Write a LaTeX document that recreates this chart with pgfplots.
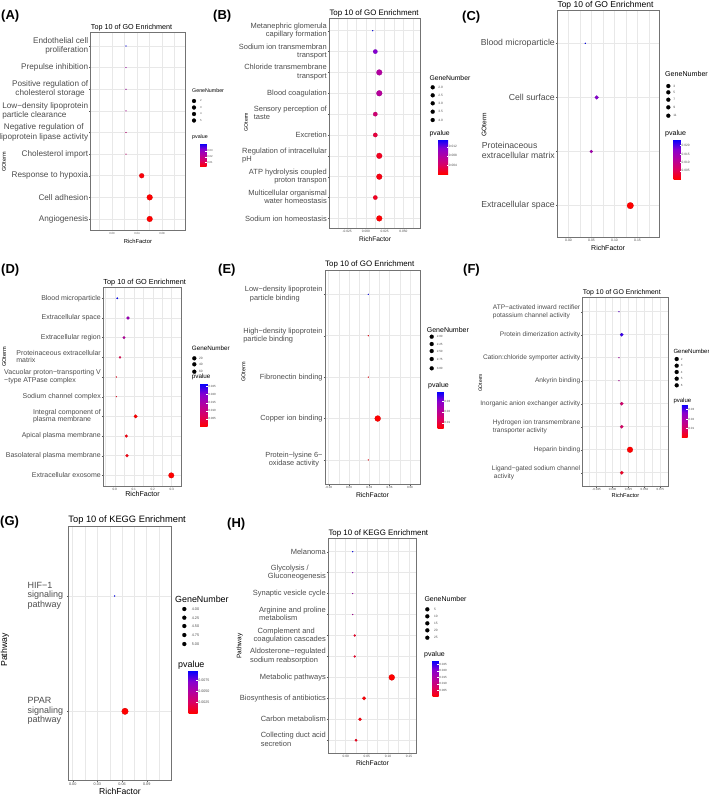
\documentclass[border=0pt]{standalone}
\usepackage{fontspec}
\setmainfont{Liberation Sans}
\usepackage{pgfplots}
\pgfplotsset{compat=1.18}
\newcommand{\fs}[2]{\fontsize{#1}{#2}\selectfont}
\newcommand{\labL}[2]{\begin{tabular}{@{}l@{}}#1\\#2\end{tabular}}
\newcommand{\labR}[2]{\begin{tabular}{@{}r@{}}#1\\#2\end{tabular}}
\newcommand{\labC}[2]{\begin{tabular}{@{}c@{}}#1\\#2\end{tabular}}
\pgfplotsset{
  /pgf/number format/assume math mode=true,
  colormap={pv}{rgb255=(255,0,0) rgb255=(219,0,96) rgb255=(180,0,158) rgb255=(135,0,208) rgb255=(0,0,255)},
  panel/.style={
    scale only axis, anchor=north west, y dir=reverse,
    colormap name=pv, colorbar,
    axis line style={black!55, line width=0.45pt},
    xmajorgrids, xminorgrids, ymajorgrids,
    major grid style={black!9, line width=0.5pt},
    minor grid style={black!9, line width=0.25pt},
    tick align=outside, major tick length=1.4pt, minor tick length=0pt,
    tick style={black!65, line width=0.35pt},
    xtick pos=left, ytick pos=left,
    scaled x ticks=false,
    title style={at={(0,1)}, anchor=base west, inner sep=0pt},
    xlabel={RichFactor},
    xlabel style={at={(0.5,0)}, anchor=base, inner sep=0pt},
    xticklabel style={text=black!70, inner sep=0.6pt, /pgf/number format/fixed, /pgf/number format/fixed zerofill},
    yticklabel style={text=black!70, inner sep=0.9pt},
    colorbar style={at={(parent axis.north east)}, anchor=north west, scale only axis,
      title={}, xlabel={}, ylabel={}, y dir=normal,
      xmajorgrids=false, xminorgrids=false, ymajorgrids=false,
      axis line style={draw=none}, major tick length=1.2pt, tick align=inside,
      tick style={white, line width=0.3pt}, scaled y ticks=false, ytick pos=right,
      yticklabel style={text=black!70, inner sep=0.6pt, /pgf/number format/fixed, /pgf/number format/fixed zerofill}},
  },
  dots/.style n args={3}{scatter, only marks, mark=*, point meta=\thisrow{p},
    visualization depends on={\thisrow{n} \as \gn},
    scatter/@pre marker code/.append style={/tikz/mark size={#3*(1+5*sqrt((\gn-#1)/(#2-#1)))/6}},
    mark options={line width=0.15pt}},
  keys/.style n args={4}{scatter, only marks, mark=*, point meta=\thisrow{n},
    visualization depends on={\thisrow{n} \as \gn},
    scatter/@pre marker code/.append style={/tikz/mark size={#3*(1+5*sqrt((\gn-#1)/(#2-#1)))/6}},
    scatter/use mapped color={draw=black, fill=black},
    mark options={line width=0.15pt},
    nodes near coords, nodes near coords align={anchor=west},
    every node near coord/.append style={xshift=#4, inner sep=0pt, text=black!70}},
}
\begin{document}
\begin{tikzpicture}
% ---------------- A ----------------
\begin{axis}[panel, at={(90.7pt,-32.7pt)}, width=94.6pt, height=197.3pt,
  xmin=-0.0341, xmax=0.1173, ymin=0.385, ymax=9.51,
  xtick={0,0.04,0.08}, minor xtick={-0.02,0.02,0.06,0.10}, ytick={1,...,9},
  yticklabels={{\labR{Endothelial cell}{proliferation}},{Prepulse inhibition},{\labC{Positive regulation of}{cholesterol storage}},{\labL{Low−density lipoprotein}{particle clearance}},{\labC{Negative regulation of}{lipoprotein lipase activity}},{Cholesterol import},{Response to hypoxia},{Cell adhesion},{Angiogenesis}},
  yticklabel style={font=\fs{8.2}{9.5}},
  xticklabel style={font=\fs{2.8}{3.2}, /pgf/number format/precision=2},
  title={Top 10 of GO Enrichment}, title style={font=\fs{7.2}{8}, yshift=-2.6pt},
  xlabel style={font=\fs{5.8}{6.5}, yshift=-13.3pt},
  point meta min=0.003, point meta max=0.043,
  colorbar style={xshift=6.2pt, yshift=-110.6pt, width=6.5pt, height=23.4pt, ytick={0.01,0.02,0.03},
    yticklabel style={font=\fs{2.8}{3.2}, /pgf/number format/precision=2}}]
\addplot[dots={2}{5}{2.9}] table[row sep=\\]{x y n p\\
0.0224 1 2 0.043\\ 0.0224 2 2 0.026\\ 0.0224 3 2 0.025\\ 0.0224 4 2 0.023\\ 0.0224 5 2 0.017\\
0.0224 6 2 0.016\\ 0.0475 7 4 0.004\\ 0.0603 8 5 0.003\\ 0.0603 9 5 0.003\\};
\end{axis}
% ---------------- B ----------------
\begin{axis}[panel, at={(329.3pt,-18.3pt)}, width=91.4pt, height=209.7pt,
  xmin=-0.0488, xmax=0.073, ymin=0.405, ymax=10.46,
  xtick={-0.025,0,0.025,0.05}, minor xtick={-0.0375,-0.0125,0.0125,0.0375,0.0625}, ytick={1,...,10},
  yticklabels={{\labR{Metanephric glomerula}{capillary formation}},{\labR{Sodium ion transmembran}{transport}},{\labR{Chloride transmembrane}{transport}},{Blood coagulation},{\labL{Sensory perception of}{taste}},{Excretion},{\labL{Regulation of intracellular}{pH}},{\labR{ATP hydrolysis coupled}{proton transpon}},{\labR{Multicellular organismal}{water homeostasis}},{Sodium ion homeostasis}},
  yticklabel style={font=\fs{7.5}{8.2}},
  xticklabel style={font=\fs{3.2}{3.6}, /pgf/number format/precision=3},
  title={Top 10 of GO Enrichment}, title style={font=\fs{7.9}{8.5}, yshift=-2.8pt},
  xlabel style={font=\fs{6.6}{7}, yshift=-13.6pt},
  point meta min=0.0001, point meta max=0.0152,
  colorbar style={xshift=8.8pt, yshift=-121pt, width=10pt, height=34.7pt, ytick={0.004,0.008,0.012},
    yticklabel style={font=\fs{3.2}{3.6}, /pgf/number format/precision=3}}]
\addplot[dots={2}{4}{2.9}] table[row sep=\\]{x y n p\\
0.0091 1 2 0.0152\\ 0.0125 2 3 0.0115\\ 0.0178 3 4 0.0078\\ 0.0178 4 4 0.0075\\ 0.0125 5 3 0.0050\\
0.0125 6 3 0.0025\\ 0.0178 7 4 0.0014\\ 0.0178 8 4 0.0008\\ 0.0125 9 3 0.0014\\ 0.0178 10 4 0.0002\\};
\end{axis}
% ---------------- C ----------------
\begin{axis}[panel, at={(557.3pt,-10pt)}, width=101.7pt, height=227pt,
  xmin=-0.0243, xmax=0.1967, ymin=0.384, ymax=4.58,
  xtick={0,0.05,0.10,0.15}, minor xtick={0.025,0.075,0.125,0.175}, ytick={1,...,4},
  yticklabels={{Blood microparticle},{Cell surface},{\labL{Proteinaceous}{extracellular matrix}},{Extracellular space}},
  yticklabel style={font=\fs{8.7}{10.5}},
  xticklabel style={font=\fs{3.4}{3.8}, /pgf/number format/precision=2},
  title={Top 10 of GO Enrichment}, title style={font=\fs{8.5}{9}, yshift=-3pt},
  xlabel style={font=\fs{7}{7.5}, yshift=-13.5pt},
  point meta min=0.0001, point meta max=0.0237,
  colorbar style={xshift=6pt, yshift=-129.3pt, width=7.3pt, height=39.7pt, ytick={0.005,0.010,0.015,0.020},
    yticklabel style={font=\fs{3.2}{3.6}, /pgf/number format/precision=3}}]
\addplot[dots={3}{11}{3.3}] table[row sep=\\]{x y n p\\
0.0365 1 3 0.0237\\ 0.0613 2 5 0.0178\\ 0.0496 3 4 0.0140\\ 0.1343 4 11 0.0001\\};
\end{axis}
% ---------------- D ----------------
\begin{axis}[panel, at={(103.3pt,-287.3pt)}, width=78.4pt, height=198.7pt,
  xmin=-0.0603, xmax=0.3524, ymin=0.441, ymax=10.54,
  xtick={0,0.1,0.2,0.3}, minor xtick={-0.05,0.05,0.15,0.25,0.35}, ytick={1,...,10},
  yticklabels={{Blood microparticle},{Extracellular space},{Extracellular region},{\labL{Proteinaceous extracellular}{matrix}},{\labL{Vacuolar proton−transporting V}{−type ATPase complex}},{Sodium channel complex},{\labL{Integral component of}{plasma membrane}},{Apical plasma membrane},{Basolateral plasma membrane},{Extracellular exosome}},
  yticklabel style={font=\fs{7.0}{7.7}},
  xticklabel style={font=\fs{3.2}{3.6}, /pgf/number format/precision=1},
  title={Top 10 of GO Enrichment}, title style={font=\fs{7.3}{8}, yshift=-3pt},
  xlabel style={font=\fs{7.1}{7.5}, yshift=-10.5pt},
  point meta min=0.0001, point meta max=0.027,
  colorbar style={xshift=10pt, yshift=-96pt, width=7.3pt, height=43.4pt, ytick={0.005,0.010,0.015,0.020,0.025},
    yticklabel style={font=\fs{3.0}{3.4}, /pgf/number format/precision=3}}]
\addplot[dots={2}{60}{2.8}] table[row sep=\\]{x y n p\\
0.0134 1 3 0.0270\\ 0.0697 2 14 0.0170\\ 0.0487 3 10 0.0135\\ 0.0276 4 6 0.0055\\ 0.0082 5 2 0.0020\\
0.0082 6 2 0.0020\\ 0.1100 7 22 0.0002\\ 0.0608 8 12 0.0012\\ 0.0645 9 13 0.0012\\ 0.2976 10 60 0.0001\\};
\end{axis}
% ---------------- E ----------------
\begin{axis}[panel, at={(325pt,-270pt)}, width=95pt, height=214.5pt,
  xmin=-0.0355, xmax=0.1049, ymin=0.413, ymax=5.594,
  xtick={-0.03,0,0.03,0.06,0.09}, minor xtick={-0.015,0.015,0.045,0.075}, ytick={1,...,5},
  yticklabels={{\labL{Low−density lipoprotein}{\hspace*{5pt}particle binding}},{\labL{High−density lipoprotein}{particle binding}},{Fibronectin binding},{Copper ion binding},{\labC{Protein−lysine 6−}{oxidase activity}}},
  yticklabel style={font=\fs{7.4}{8.3}},
  xticklabel style={font=\fs{3.0}{3.4}, /pgf/number format/precision=2},
  title={Top 10 of GO Enrichment}, title style={font=\fs{7.9}{8.5}, yshift=-2.1pt},
  xlabel style={font=\fs{6.8}{7.3}, yshift=-12.9pt},
  point meta min=0.005, point meta max=0.0385,
  colorbar style={xshift=9pt, yshift=-121.7pt, width=6pt, height=36.6pt, ytick={0.01,0.02,0.03},
    yticklabel style={font=\fs{3.0}{3.4}, /pgf/number format/precision=2}}]
\addplot[dots={2}{3}{3.0}] table[row sep=\\]{x y n p\\
0.0285 1 2 0.0385\\ 0.0285 2 2 0.0060\\ 0.0285 3 2 0.0060\\ 0.0424 4 3 0.0050\\ 0.0285 5 2 0.0060\\};
\end{axis}
% ---------------- F ----------------
\begin{axis}[panel, at={(582.7pt,-297.3pt)}, width=85.6pt, height=189pt,
  xmin=-0.0469, xmax=0.0874, ymin=0.374, ymax=8.59,
  xtick={-0.025,0,0.025,0.05,0.075}, minor xtick={-0.0375,-0.0125,0.0125,0.0375,0.0625}, ytick={1,...,8},
  yticklabels={{\labL{ATP−activated inward rectifier}{potassium channel activity}},{Protein dimerization activity},{Cation:chloride symporter activity},{Ankyrin binding},{Inorganic anion exchanger activity},{\labL{Hydrogen ion transmembrane}{transporter activity}},{Heparin binding},{\labL{Ligand−gated sodium channel}{\hspace*{2pt}activity}}},
  yticklabel style={font=\fs{6.6}{8}},
  xticklabel style={font=\fs{3.0}{3.4}, /pgf/number format/precision=3},
  title={Top 10 of GO Enrichment}, title style={font=\fs{6.9}{7.5}, yshift=-3.5pt},
  xlabel style={font=\fs{5.7}{6.2}, yshift=-10.7pt},
  point meta min=0.0005, point meta max=0.0356,
  colorbar style={xshift=5pt, yshift=-107pt, width=5.7pt, height=33pt, ytick={0.01,0.02,0.03},
    yticklabel style={font=\fs{3.0}{3.4}, /pgf/number format/precision=2}}]
\addplot[dots={2}{6}{2.9}] table[row sep=\\]{x y n p\\
0.0100 1 2 0.029\\ 0.0143 2 3 0.032\\ 0.0100 3 2 0.020\\ 0.0100 4 2 0.018\\ 0.0143 5 3 0.011\\
0.0143 6 3 0.010\\ 0.0273 7 6 0.0005\\ 0.0143 8 3 0.004\\};
\end{axis}
% ---------------- G ----------------
\begin{axis}[panel, at={(68.3pt,-526.7pt)}, width=103.4pt, height=253.9pt,
  xmin=-0.00535, xmax=0.1204, ymin=0.399, ymax=2.601,
  xtick={0,0.03,0.06,0.09}, minor xtick={0.015,0.045,0.075,0.105}, ytick={1,2},
  yticklabels={{\begin{tabular}{@{}l@{}}HIF−1\\signaling\\pathway\end{tabular}},{\begin{tabular}{@{}l@{}}PPAR\\signaling\\pathway\end{tabular}}},
  yticklabel style={font=\fs{9.0}{9.4}, xshift=-2.7pt},
  xticklabel style={font=\fs{3.8}{4.2}, /pgf/number format/precision=2},
  title={Top 10 of KEGG Enrichment}, title style={font=\fs{9.3}{10}, yshift=-1.6pt},
  xlabel style={font=\fs{8.6}{9}, yshift=-14.1pt},
  point meta min=0.00003, point meta max=0.0096,
  colorbar style={xshift=8.3pt, yshift=-144pt, width=9pt, height=42.6pt, ytick={0.0025,0.005,0.0075},
    yticklabel style={font=\fs{3.6}{4}, /pgf/number format/precision=4}}]
\addplot[dots={4}{5}{3.3}] table[row sep=\\]{x y n p\\
0.0510 1 4 0.0096\\ 0.0636 2 5 0.00003\\};
\end{axis}
% ---------------- H ----------------
\begin{axis}[panel, at={(328.3pt,-538.3pt)}, width=88.4pt, height=214.7pt,
  xmin=-0.0412, xmax=0.168, ymin=0.36, ymax=10.61,
  xtick={0,0.05,0.10,0.15}, minor xtick={-0.025,0.025,0.075,0.125}, ytick={1,...,10},
  yticklabels={{Melanoma},{\labL{\hspace*{3pt}Glycolysis /}{Gluconeogenesis}},{Synaptic vesicle cycle},{\labL{Arginine and proline}{metabolism}},{\labL{\hspace*{4pt}Complement and}{coagulation cascades}},{\labL{Aldosterone−regulated}{sodium reabsorption}},{Metabolic pathways},{Biosynthesis of antibiotics},{Carbon metabolism},{\labL{Collecting duct acid}{secretion}}},
  yticklabel style={font=\fs{7.5}{8.3}},
  xticklabel style={font=\fs{3.2}{3.6}, /pgf/number format/precision=2},
  title={Top 10 of KEGG Enrichment}, title style={font=\fs{7.9}{8.5}, yshift=-2.8pt},
  xlabel style={font=\fs{6.8}{7.3}, yshift=-12.7pt},
  point meta min=0.0001, point meta max=0.0276,
  colorbar style={xshift=7.3pt, yshift=-122.4pt, width=6pt, height=36pt, ytick={0.005,0.010,0.015,0.020,0.025},
    yticklabel style={font=\fs{3.0}{3.4}, /pgf/number format/precision=3}}]
\addplot[dots={4}{25}{3.0}] table[row sep=\\]{x y n p\\
0.0166 1 4 0.0276\\ 0.0166 2 4 0.0190\\ 0.0166 3 4 0.0165\\ 0.0166 4 4 0.0140\\ 0.0213 5 5 0.0030\\
0.0213 6 5 0.0030\\ 0.1090 7 25 0.0001\\ 0.0434 8 10 0.0005\\ 0.0339 9 8 0.0010\\ 0.0244 10 6 0.0020\\};
\end{axis}
% ---------------- size legends (page coordinates) ----------------
\begin{axis}[at={(0pt,0pt)}, anchor=north west, scale only axis, width=709pt, height=795pt,
  xmin=0, xmax=709, ymin=0, ymax=795, y dir=reverse, hide axis, clip=false]
\addplot[keys={2}{5}{2.9}{6pt}, every node near coord/.append style={font=\fs{2.8}{3.2}}] table[row sep=\\]{x y n\\ 194 101 2\\ 194 107.5 3\\ 194 114 4\\ 194 120.5 5\\};
\addplot[keys={2}{4}{2.9}{5.6pt}, every node near coord/.append style={font=\fs{3.2}{3.6}, /pgf/number format/fixed, /pgf/number format/fixed zerofill, /pgf/number format/precision=1}] table[row sep=\\]{x y n\\ 432.7 87.3 2.0\\ 432.7 95.3 2.5\\ 432.7 103.3 3.0\\ 432.7 111.7 3.5\\ 432.7 120 4.0\\};
\addplot[keys={3}{11}{3.3}{5pt}, every node near coord/.append style={font=\fs{3.2}{3.6}}] table[row sep=\\]{x y n\\ 668.3 86 3\\ 668.3 92.3 5\\ 668.3 99.7 7\\ 668.3 107.3 9\\ 668.3 115.7 11\\};
\addplot[keys={2}{60}{2.8}{4.7pt}, every node near coord/.append style={font=\fs{3.2}{3.6}}] table[row sep=\\]{x y n\\ 194.3 358.3 20\\ 194.3 364.3 40\\ 194.3 371.7 60\\};
\addplot[keys={2}{3}{3.0}{5pt}, every node near coord/.append style={font=\fs{3.0}{3.4}, /pgf/number format/fixed, /pgf/number format/fixed zerofill, /pgf/number format/precision=2}] table[row sep=\\]{x y n\\ 431.7 336.7 2.00\\ 431.7 344 2.25\\ 431.7 351 2.50\\ 431.7 359 2.75\\ 431.7 368.3 3.00\\};
\addplot[keys={2}{6}{2.9}{4pt}, every node near coord/.append style={font=\fs{3.0}{3.4}}] table[row sep=\\]{x y n\\ 676.7 359 2\\ 676.7 365.7 3\\ 676.7 372 4\\ 676.7 378.7 5\\ 676.7 385.3 6\\};
\addplot[keys={4}{5}{3.3}{7.4pt}, every node near coord/.append style={font=\fs{3.8}{4.2}, /pgf/number format/fixed, /pgf/number format/fixed zerofill, /pgf/number format/precision=2}] table[row sep=\\]{x y n\\ 184.3 609 4.00\\ 184.3 617.7 4.25\\ 184.3 626 4.50\\ 184.3 635 4.75\\ 184.3 644 5.00\\};
\addplot[keys={4}{25}{3.0}{6.7pt}, every node near coord/.append style={font=\fs{3.2}{3.6}}] table[row sep=\\]{x y n\\ 427.3 609.3 5\\ 427.3 616.3 10\\ 427.3 623.3 15\\ 427.3 630.3 20\\ 427.3 637.7 25\\};
\end{axis}
% ---------------- texts ----------------
\tikzset{lt/.style={anchor=base west, inner sep=0pt}}
\node[lt, font=\fs{13}{13}\bfseries] at (1pt,-19.5pt) {(A)};
\node[lt, font=\fs{13}{13}\bfseries] at (213pt,-19.5pt) {(B)};
\node[lt, font=\fs{13}{13}\bfseries] at (462pt,-20.5pt) {(C)};
\node[lt, font=\fs{13}{13}\bfseries] at (1pt,-273pt) {(D)};
\node[lt, font=\fs{13}{13}\bfseries] at (218pt,-273pt) {(E)};
\node[lt, font=\fs{13}{13}\bfseries] at (463pt,-273pt) {(F)};
\node[lt, font=\fs{13}{13}\bfseries] at (0pt,-525pt) {(G)};
\node[lt, font=\fs{13}{13}\bfseries] at (227pt,-527pt) {(H)};
% y axis titles
\node[rotate=90, inner sep=0pt, font=\fs{5.5}{6}] at (4pt,-162pt) {GOterm};
\node[rotate=90, inner sep=0pt, font=\fs{5.2}{6}] at (246pt,-122pt) {GOterm};
\node[rotate=90, inner sep=0pt, font=\fs{6.6}{7}] at (484pt,-125pt) {GOterm};
\node[rotate=90, inner sep=0pt, font=\fs{5.6}{6}] at (4.2pt,-357pt) {GOterm};
\node[rotate=90, inner sep=0pt, font=\fs{5.5}{6}] at (243.5pt,-372pt) {GOterm};
\node[rotate=90, inner sep=0pt, font=\fs{5.0}{6}] at (480.5pt,-383pt) {GOterm};
\node[rotate=90, inner sep=0pt, font=\fs{8.7}{9}] at (5pt,-650pt) {Pathway};
\node[rotate=90, inner sep=0pt, font=\fs{6.5}{7}] at (239.7pt,-646pt) {Pathway};
% legend titles
\node[lt, font=\fs{5.3}{6}] at (192pt,-92.9pt) {GeneNumber};
\node[lt, font=\fs{5.3}{6}] at (192pt,-138.6pt) {pvalue};
\node[lt, font=\fs{6.8}{7}] at (429.3pt,-80.1pt) {GeneNumber};
\node[lt, font=\fs{6.8}{7}] at (429.5pt,-135.1pt) {pvalue};
\node[lt, font=\fs{7.1}{7.5}] at (665pt,-76.5pt) {GeneNumber};
\node[lt, font=\fs{7.1}{7.5}] at (665pt,-135.8pt) {pvalue};
\node[lt, font=\fs{6.3}{7}] at (191.7pt,-350.5pt) {GeneNumber};
\node[lt, font=\fs{6.3}{7}] at (191.7pt,-378.9pt) {pvalue};
\node[lt, font=\fs{7}{7.5}] at (426.7pt,-332.5pt) {GeneNumber};
\node[lt, font=\fs{7}{7.5}] at (428pt,-387.5pt) {pvalue};
\node[lt, font=\fs{6}{6.5}] at (673.3pt,-353.8pt) {GeneNumber};
\node[lt, font=\fs{6}{6.5}] at (673.3pt,-402.1pt) {pvalue};
\node[lt, font=\fs{8.9}{9.5}] at (175pt,-602.5pt) {GeneNumber};
\node[lt, font=\fs{8.9}{9.5}] at (178pt,-667.5pt) {pvalue};
\node[lt, font=\fs{7}{7.5}] at (424.3pt,-601.5pt) {GeneNumber};
\node[lt, font=\fs{7}{7.5}] at (424pt,-656.8pt) {pvalue};
\pgfresetboundingbox
\path[use as bounding box] (0pt,0pt) rectangle (709pt,-795pt);
\end{tikzpicture}
\end{document}
